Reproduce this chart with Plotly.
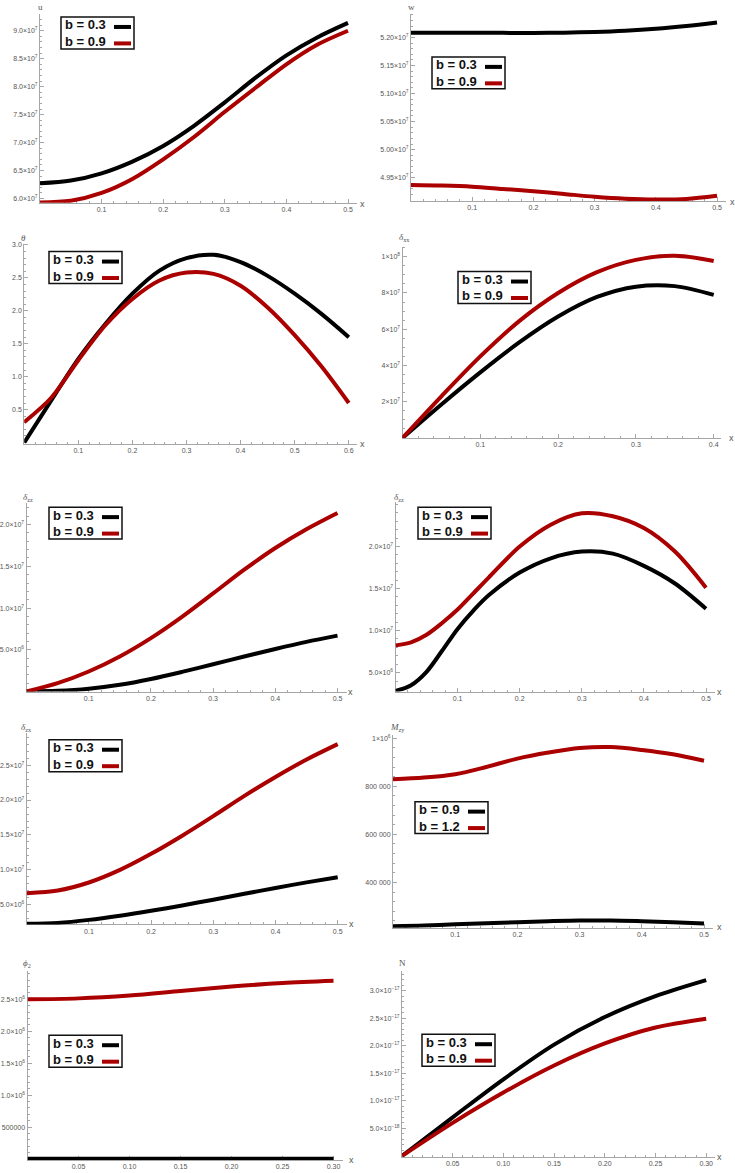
import plotly.graph_objects as go

W, H = 735, 1173
BLACK = "#000000"
RED = "#AA0000"

# ---------------- data ----------------
x_05 = [0, 0.05, 0.10, 0.15, 0.20, 0.25, 0.30, 0.35, 0.40, 0.45, 0.50]
x_05d = [0, 0.025, 0.05, 0.075, 0.10, 0.125, 0.15, 0.20, 0.25, 0.30, 0.35, 0.40, 0.45, 0.50]
x_06 = [0, 0.05, 0.10, 0.15, 0.20, 0.25, 0.30, 0.35, 0.40, 0.45, 0.50, 0.55, 0.60]
x_04 = [0, 0.05, 0.10, 0.15, 0.20, 0.25, 0.30, 0.35, 0.40]
x_03 = [0, 0.05, 0.10, 0.15, 0.20, 0.25, 0.30]

u_b03 = [6.27e7, 6.32e7, 6.45e7, 6.66e7, 6.94e7, 7.30e7, 7.72e7, 8.16e7, 8.56e7, 8.88e7, 9.14e7]
u_b09 = [5.93e7, 5.96e7, 6.10e7, 6.35e7, 6.70e7, 7.10e7, 7.55e7, 7.98e7, 8.40e7, 8.75e7, 9.00e7]

w_b03 = [5.2084e7, 5.2084e7, 5.2083e7, 5.2081e7, 5.2080e7, 5.2085e7, 5.2098e7, 5.2120e7, 5.2155e7, 5.2205e7, 5.2267e7]
w_b09 = [4.937e7, 4.936e7, 4.934e7, 4.930e7, 4.926e7, 4.921e7, 4.916e7, 4.9125e7, 4.911e7, 4.912e7, 4.9177e7]

theta_b03 = [0.0, 0.64, 1.27, 1.80, 2.26, 2.61, 2.80, 2.85, 2.74, 2.53, 2.26, 1.95, 1.60]
theta_b09 = [0.31, 0.68, 1.25, 1.78, 2.18, 2.46, 2.58, 2.56, 2.38, 2.05, 1.63, 1.15, 0.60]

dxx_b03 = [0.0, 1.85e7, 3.62e7, 5.27e7, 6.70e7, 7.78e7, 8.35e7, 8.38e7, 7.90e7]
dxx_b09 = [0.0, 2.30e7, 4.50e7, 6.45e7, 8.00e7, 9.15e7, 9.83e7, 1.005e8, 9.77e7]

dzz1_b03 = [0.0, 0.08e6, 0.33e6, 0.80e6, 1.50e6, 2.35e6, 3.27e6, 4.20e6, 5.10e6, 5.95e6, 6.70e6]
dzz1_b09 = [0.0, 1.00e6, 2.40e6, 4.20e6, 6.40e6, 8.95e6, 1.175e7, 1.46e7, 1.72e7, 1.945e7, 2.14e7]

dzz2_b03 = [2.81e6, 3.50e6, 5.10e6, 7.60e6, 1.02e7, 1.235e7, 1.42e7, 1.69e7, 1.86e7, 1.94e7, 1.915e7,
            1.77e7, 1.56e7, 1.26e7]
dzz2_b09 = [8.24e6, 8.60e6, 9.50e6, 1.09e7, 1.25e7, 1.44e7, 1.63e7, 2.00e7, 2.26e7, 2.395e7, 2.36e7,
            2.22e7, 1.94e7, 1.51e7]

dzx_b03 = [2.29e6, 2.42e6, 2.85e6, 3.45e6, 4.15e6, 4.92e6, 5.74e6, 6.58e6, 7.42e6, 8.22e6, 8.96e6]
dzx_b09 = [6.67e6, 7.05e6, 8.20e6, 1.00e7, 1.23e7, 1.49e7, 1.77e7, 2.06e7, 2.33e7, 2.58e7, 2.80e7]

mzy_b09 = [218e3, 221e3, 226e3, 231e3, 235e3, 239e3, 242e3, 242e3, 239e3, 235e3, 230e3]
mzy_b12 = [829e3, 836e3, 850e3, 880e3, 915e3, 940e3, 959e3, 963e3, 951e3, 933e3, 906e3]

phi_b03 = [3000, 3000, 3000, 3000, 3000, 3000, 3000]
phi_b09 = [2.50e6, 2.515e6, 2.56e6, 2.63e6, 2.70e6, 2.755e6, 2.79e6]

n_b03 = [0.0, 7.0e-18, 1.39e-17, 2.02e-17, 2.52e-17, 2.90e-17, 3.19e-17]
n_b09 = [0.0, 6.0e-18, 1.15e-17, 1.64e-17, 2.04e-17, 2.33e-17, 2.49e-17]

xt_01 = [0.1, 0.2, 0.3, 0.4, 0.5]
xt_01_6 = [0.1, 0.2, 0.3, 0.4, 0.5, 0.6]
xt_01_4 = [0.1, 0.2, 0.3, 0.4]
xt_005 = [0.05, 0.10, 0.15, 0.20, 0.25, 0.30]
xt_005_text = ["0.05", "0.10", "0.15", "0.20", "0.25", "0.30"]

def sci(m, e):
    return f"{m}×10<sup>{e}</sup>"

yt_u = [6.0e7, 6.5e7, 7.0e7, 7.5e7, 8.0e7, 8.5e7, 9.0e7]
yt_u_text = [sci(m, 7) for m in ["6.0", "6.5", "7.0", "7.5", "8.0", "8.5", "9.0"]]
yt_w = [4.95e7, 5.00e7, 5.05e7, 5.10e7, 5.15e7, 5.20e7]
yt_w_text = [sci(m, 7) for m in ["4.95", "5.00", "5.05", "5.10", "5.15", "5.20"]]
yt_th = [0.5, 1.0, 1.5, 2.0, 2.5, 3.0]
yt_th_text = ["0.5", "1.0", "1.5", "2.0", "2.5", "3.0"]
yt_dxx = [2e7, 4e7, 6e7, 8e7, 1e8]
yt_dxx_text = [sci("2", 7), sci("4", 7), sci("6", 7), sci("8", 7), sci("1", 8)]
yt_dzz = [5e6, 1e7, 1.5e7, 2e7]
yt_dzz_text = [sci("5.0", 6), sci("1.0", 7), sci("1.5", 7), sci("2.0", 7)]
yt_dzx = [5e6, 1e7, 1.5e7, 2e7, 2.5e7]
yt_dzx_text = [sci("5.0", 6), sci("1.0", 7), sci("1.5", 7), sci("2.0", 7), sci("2.5", 7)]
yt_mzy = [4e5, 6e5, 8e5, 1e6]
yt_mzy_text = ["400 000", "600 000", "800 000", sci("1", 6)]
yt_phi = [5e5, 1e6, 1.5e6, 2e6, 2.5e6]
yt_phi_text = ["500000", sci("1.0", 6), sci("1.5", 6), sci("2.0", 6), sci("2.5", 6)]
yt_n = [5e-18, 1e-17, 1.5e-17, 2e-17, 2.5e-17, 3e-17]
yt_n_text = [sci("5.0", "−18"), sci("1.0", "−17"), sci("1.5", "−17"), sci("2.0", "−17"),
             sci("2.5", "−17"), sci("3.0", "−17")]

# ---------------- panel layout (pixel geometry) ----------------
# x0px: pixel of x=0, kx: px per x unit, xmax: x range end
# ypx: pixel of x-axis line, yval: value at axis, ky: px per y unit, ytop: top value
panels = [
    dict(xs=[x_05, x_05], ys=[u_b03, u_b09], labels=["b = 0.3", "b = 0.9"], ylab="u",
         x0px=40, kx=616, xmax=0.515, ypx=201, yval=5.925e7, ky=56 / 1e7, ytop=9.3e7,
         xt=xt_01, xtt=None, xminor=0.02, yt=yt_u, ytt=yt_u_text, yminor=0.1e7,
         leg=(61, 15), ylabpos=(40, 5), xlabpos=(362, 202)),
    dict(xs=[x_05, x_05], ys=[w_b03, w_b09], labels=["b = 0.3", "b = 0.9"], ylab="w",
         x0px=411, kx=612, xmax=0.515, ypx=199.3, yval=4.9085e7, ky=562 / 1e7, ytop=5.242e7,
         xt=xt_01, xtt=None, xminor=0.02, yt=yt_w, ytt=yt_w_text, yminor=0.01e7,
         leg=(432, 55), ylabpos=(411, 5), xlabpos=(732, 200)),
    dict(xs=[x_06, x_06], ys=[theta_b03, theta_b09], labels=["b = 0.3", "b = 0.9"], ylab="<i>θ</i>",
         x0px=24.2, kx=541, xmax=0.615, ypx=442.3, yval=-0.015, ky=66, ytop=3.02,
         xt=xt_01_6, xtt=None, xminor=0.02, yt=yt_th, ytt=yt_th_text, yminor=0.1,
         leg=(49, 250), ylabpos=(23, 236), xlabpos=(362, 443)),
    dict(xs=[x_04, x_04], ys=[dxx_b03, dxx_b09], labels=["b = 0.3", "b = 0.9"], ylab="<i>δ</i><sub>xx</sub>",
         x0px=402.5, kx=778, xmax=0.41, ypx=436.7, yval=0, ky=18.15 / 1e7, ytop=1.056e8,
         xt=xt_01_4, xtt=None, xminor=0.02, yt=yt_dxx, ytt=yt_dxx_text, yminor=0.5e7,
         leg=(458, 270), ylabpos=(405, 236), xlabpos=(731, 437)),
    dict(xs=[x_05, x_05], ys=[dzz1_b03, dzz1_b09], labels=["b = 0.3", "b = 0.9"], ylab="<i>δ</i><sub>zz</sub>",
         x0px=26.5, kx=622, xmax=0.515, ypx=690.7, yval=0, ky=8.36 / 1e6, ytop=2.26e7,
         xt=xt_01, xtt=None, xminor=0.02, yt=yt_dzz, ytt=yt_dzz_text, yminor=1e6,
         leg=(49, 506), ylabpos=(28, 496), xlabpos=(350, 691)),
    dict(xs=[x_05d, x_05d], ys=[dzz2_b03, dzz2_b09], labels=["b = 0.3", "b = 0.9"], ylab="<i>δ</i><sub>zz</sub>",
         x0px=395.5, kx=621, xmax=0.515, ypx=690.7, yval=2.75e6, ky=8.42 / 1e6, ytop=2.526e7,
         xt=xt_01, xtt=None, xminor=0.02, yt=yt_dzz, ytt=yt_dzz_text, yminor=1e6,
         leg=(418, 506), ylabpos=(399, 496), xlabpos=(719, 691)),
    dict(xs=[x_05, x_05], ys=[dzx_b03, dzx_b09], labels=["b = 0.3", "b = 0.9"], ylab="<i>δ</i><sub>zx</sub>",
         x0px=26.7, kx=622, xmax=0.515, ypx=924, yval=2.2e6, ky=7 / 1e6, ytop=2.96e7,
         xt=xt_01, xtt=None, xminor=0.02, yt=yt_dzx, ytt=yt_dzx_text, yminor=1e6,
         leg=(49, 739), ylabpos=(26, 727), xlabpos=(351, 924)),
    dict(xs=[x_05, x_05], ys=[mzy_b09, mzy_b12], labels=["b = 0.9", "b = 1.2"], ylab="<i>M</i><sub>zy</sub>",
         x0px=393, kx=622, xmax=0.515, ypx=927.3, yval=212e3, ky=24.1 / 1e5, ytop=1.014e6,
         xt=xt_01, xtt=None, xminor=0.02, yt=yt_mzy, ytt=yt_mzy_text, yminor=40e3,
         leg=(415, 801), ylabpos=(397, 727), xlabpos=(719, 927)),
    dict(xs=[x_03, x_03], ys=[phi_b03, phi_b09], labels=["b = 0.3", "b = 0.9"], ylab="<i>ϕ</i><sub>2</sub>",
         x0px=27.5, kx=1020, xmax=0.309, ypx=1160, yval=-15e3, ky=6.4 / 1e5, ytop=2.94e6,
         xt=xt_005, xtt=xt_005_text, xminor=0.01, yt=yt_phi, ytt=yt_phi_text, yminor=1e5,
         leg=(49, 1035), ylabpos=(27, 963), xlabpos=(351, 1160)),
    dict(xs=[x_03, x_03], ys=[n_b03, n_b09], labels=["b = 0.3", "b = 0.9"], ylab="N",
         x0px=402, kx=1014, xmax=0.309, ypx=1156.7, yval=-1.5e-19, ky=5.52 / 1e-18, ytop=3.35e-17,
         xt=xt_005, xtt=xt_005_text, xminor=0.01, yt=yt_n, ytt=yt_n_text, yminor=1e-18,
         leg=(422, 1034), ylabpos=(402, 963), xlabpos=(719, 1157)),
]

AXC = "#a6a6a6"
TICKFONT = dict(family="Liberation Sans, Arial, sans-serif", size=7, color="#555555")

def px2x(p):
    return p / W

def px2y(p):
    return 1 - p / H

fig = go.Figure()
shapes = []
annotations = []
layout = {}

for i, p in enumerate(panels):
    n = i + 1
    xa = "x" if n == 1 else f"x{n}"
    ya = "y" if n == 1 else f"y{n}"
    xkey = "xaxis" if n == 1 else f"xaxis{n}"
    ykey = "yaxis" if n == 1 else f"yaxis{n}"

    L = p["x0px"]
    R = L + p["kx"] * p["xmax"]
    B = p["ypx"]
    T = B - (p["ytop"] - p["yval"]) * p["ky"]

    for xs, ys, col, lab in zip(p["xs"], p["ys"], [BLACK, RED], p["labels"]):
        fig.add_trace(go.Scatter(
            x=xs, y=ys, mode="lines", name=lab, showlegend=False,
            line=dict(color=col, width=4, shape="spline", smoothing=0.9),
            xaxis=xa, yaxis=ya, hoverinfo="skip"))

    common = dict(showline=True, linecolor=AXC, linewidth=1, showgrid=False,
                  zeroline=False, ticks="inside", ticklen=4, tickcolor=AXC,
                  tickwidth=1, tickfont=TICKFONT, layer="below traces", fixedrange=True)
    xax = dict(common, domain=[px2x(L), px2x(R)], range=[0, p["xmax"]], anchor=ya,
               tickmode="array", tickvals=p["xt"],
               minor=dict(dtick=p["xminor"], tick0=0, ticks="inside", ticklen=2,
                          tickcolor=AXC, showgrid=False))
    if p["xtt"] is not None:
        xax["ticktext"] = p["xtt"]
    yax = dict(common, domain=[px2y(B), px2y(T)], range=[p["yval"], p["ytop"]], anchor=xa,
               tickmode="array", tickvals=p["yt"], ticktext=p["ytt"],
               minor=dict(dtick=p["yminor"], tick0=0, ticks="inside", ticklen=2,
                          tickcolor=AXC, showgrid=False))
    layout[xkey] = xax
    layout[ykey] = yax

    # axis labels
    annotations.append(dict(xref="paper", yref="paper", x=px2x(p["ylabpos"][0]),
                            y=px2y(p["ylabpos"][1]), text=p["ylab"], showarrow=False,
                            xanchor="center", yanchor="middle",
                            font=dict(family="Liberation Serif, Times New Roman, serif",
                                      size=9, color="#555555")))
    annotations.append(dict(xref="paper", yref="paper", x=px2x(p["xlabpos"][0]),
                            y=px2y(p["xlabpos"][1]), text="x", showarrow=False,
                            xanchor="center", yanchor="middle",
                            font=dict(family="Liberation Sans, Arial, sans-serif",
                                      size=9, color="#555555")))

    # legend box (text left, sample line right, as in the reference)
    lx, ly = p["leg"]
    bw, bh = 73, 32
    shapes.append(dict(type="rect", xref="paper", yref="paper",
                       x0=px2x(lx), x1=px2x(lx + bw), y0=px2y(ly + bh), y1=px2y(ly),
                       line=dict(color="#111111", width=1.5), fillcolor="white", layer="above"))
    for k, (col, lab) in enumerate(zip([BLACK, RED], p["labels"])):
        cy = ly + 8 + 16.5 * k
        annotations.append(dict(xref="paper", yref="paper", x=px2x(lx + 2), y=px2y(cy),
                                text=lab, showarrow=False, xanchor="left", yanchor="middle",
                                font=dict(family="Liberation Sans, Arial, sans-serif",
                                          size=13, color="#111111", weight="bold")))
        shapes.append(dict(type="line", xref="paper", yref="paper",
                           x0=px2x(lx + 53), x1=px2x(lx + 70),
                           y0=px2y(cy + 2), y1=px2y(cy + 2),
                           line=dict(color=col, width=4), layer="above"))

fig.update_layout(
    width=W, height=H, margin=dict(l=0, r=0, t=0, b=0),
    paper_bgcolor="white", plot_bgcolor="white", showlegend=False,
    shapes=shapes, annotations=annotations, **layout)

fig.write_html("out.html")
